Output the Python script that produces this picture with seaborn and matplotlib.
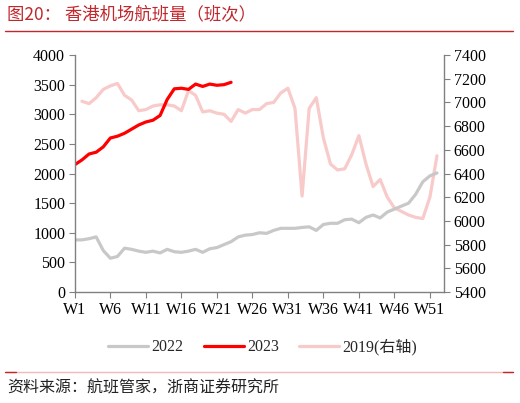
import pandas as pd
import matplotlib.pyplot as plt
from matplotlib.lines import Line2D
import seaborn as sns

# Weekly flights, Hong Kong airport
weeks_2022 = list(range(1, 53))
flights_2022 = [880, 880, 900, 930, 700, 570, 600, 740, 720, 690,
                670, 690, 660, 720, 680, 670, 690, 720, 670, 730,
                750, 800, 850, 930, 960, 970, 1000, 990, 1040, 1075,
                1075, 1075, 1090, 1100, 1040, 1140, 1160, 1160, 1220, 1230,
                1170, 1260, 1300, 1250, 1350, 1400, 1450, 1500, 1650, 1860,
                1960, 2010]

weeks_2023 = list(range(1, 24))
flights_2023 = [2150, 2230, 2330, 2360, 2450, 2600, 2630, 2680, 2750, 2820,
                2870, 2900, 2980, 3250, 3430, 3440, 3420, 3510, 3470, 3510,
                3490, 3500, 3540]

weeks_2019 = list(range(2, 53))
flights_2019 = [7010, 6990, 7040, 7110, 7140, 7160, 7060, 7020, 6930, 6940,
                6970, 6980, 6980, 6970, 6930, 7100, 7060, 6920, 6930, 6910,
                6900, 6840, 6940, 6910, 6940, 6940, 6990, 7000, 7080, 7120,
                6950, 6210, 6950, 7040, 6700, 6480, 6430, 6440, 6560, 6720,
                6480, 6290, 6350, 6200, 6110, 6080, 6050, 6030, 6020, 6200,
                6550]

tick_weeks = list(range(1, 53, 5))
tick_labels = [f"W{w}" for w in tick_weeks]

sns.set_style("ticks")
plt.rcParams['font.family'] = ['Liberation Serif', 'Noto Sans CJK SC']

fig = plt.figure(figsize=(5.2, 4.03), dpi=100)
ax = fig.add_axes([0.144, 0.2754, 0.71, 0.588])
ax2 = ax.twinx()

df22 = pd.DataFrame({"week": weeks_2022, "flights": flights_2022})
df23 = pd.DataFrame({"week": weeks_2023, "flights": flights_2023})
df19 = pd.DataFrame({"week": weeks_2019, "flights": flights_2019})

sns.lineplot(data=df22, x="week", y="flights", ax=ax, color="#c8c8c8", lw=2.3, label="2022", legend=False)
sns.lineplot(data=df23, x="week", y="flights", ax=ax, color="#ff0000", lw=2.3, label="2023", legend=False)
sns.lineplot(data=df19, x="week", y="flights", ax=ax2, color="#f8caca", lw=2.3, label="2019(右轴)", legend=False)
ax2.set_zorder(0)
ax.set_zorder(1)
ax.patch.set_visible(False)

ax.set_xlim(1, 53)
ax.set_ylim(0, 4000)
ax.set_yticks(range(0, 4001, 500))
ax2.set_ylim(5400, 7400)
ax2.set_yticks(range(5400, 7401, 200))
ax.set_xticks(tick_weeks)
ax.set_xticklabels(tick_labels)
ax.set_xlabel("")
ax.set_ylabel("")
ax2.set_ylabel("")

for a in (ax, ax2):
    a.spines['top'].set_visible(False)
    for s in a.spines.values():
        s.set_color("#808080")
        s.set_linewidth(1.0)
    a.tick_params(labelsize=11.5, length=4, color="#808080", labelcolor="#000000", pad=3)
ax.spines['right'].set_visible(False)
ax2.spines['left'].set_visible(False)
ax2.spines['bottom'].set_visible(False)

# legend
h1, l1 = ax.get_legend_handles_labels()
h2, l2 = ax2.get_legend_handles_labels()
fig.legend(h1 + h2, l1 + l2, loc="center", bbox_to_anchor=(0.505, 1 - 347 / 403),
           ncol=3, frameon=False, fontsize=11.5, handlelength=2.5,
           columnspacing=1.3, handletextpad=0.2)

# header and footer
fig.text(0.013, 1 - 14 / 403, "图20： 香港机场航班量（班次）", fontsize=12.5,
         color="#c0282d", va="center", ha="left",
         family=['Noto Sans CJK SC', 'Liberation Serif'])
fig.add_artist(Line2D([0.01, 0.987], [1 - 31 / 403] * 2, color="#c0282d", lw=1.0))
fig.add_artist(Line2D([0.01, 0.987], [1 - 372 / 403] * 2, color="#f4b8b8", lw=1.0))
fig.add_artist(Line2D([0.01, 0.03], [1 - 372 / 403] * 2, color="#c0282d", lw=1.0))
fig.add_artist(Line2D([0.967, 0.987], [1 - 372 / 403] * 2, color="#c0282d", lw=1.0))
fig.text(0.013, 1 - 388 / 403, "资料来源：航班管家，浙商证券研究所", fontsize=11.5,
         color="#222222", va="center", ha="left",
         family=['Noto Sans CJK SC', 'Liberation Serif'])

fig.savefig("out.png", dpi=100)
